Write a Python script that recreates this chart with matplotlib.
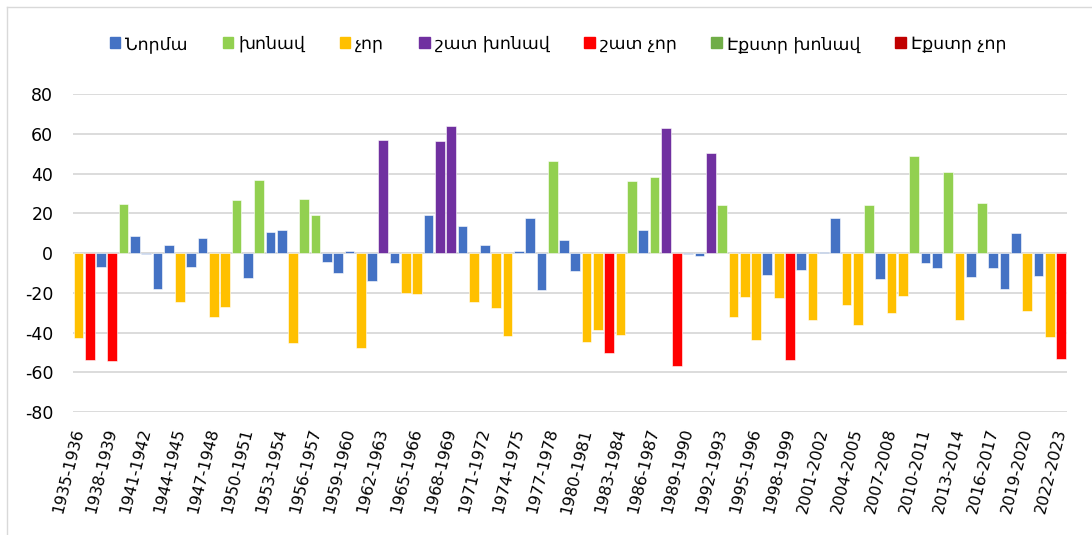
import numpy as np
import matplotlib
matplotlib.use("Agg")
import matplotlib.pyplot as plt
import matplotlib.patches as mpatches
from matplotlib.lines import Line2D

# seasons 1935-1936 ... 2022-2023
start_years = list(range(1935, 2023))
seasons = [f"{y}-{y + 1}" for y in start_years]

# anomaly values (%)
values = [
    -42.6, -53.9, -6.9, -54.5, 24.9, 8.8, -0.3, -18.2, 3.9, -24.9,
    -6.9, 7.7, -32.0, -27.0, 26.8, -12.8, 36.5, 10.4, 11.8, -45.1,
    27.3, 19.0, -4.5, -10.1, 1.0, -48.0, -14.0, 56.7, -5.2, -19.9,
    -20.7, 18.9, 56.6, 64.1, 13.6, -24.9, 4.2, -27.6, -41.6, 1.0,
    17.8, -18.5, 46.1, 6.4, -9.1, -45.0, -38.9, -50.2, -41.1, 36.4,
    11.8, 38.2, 62.8, -57.1, -0.3, -1.7, 50.2, 24.2, -32.0, -22.0,
    -43.6, -10.9, -22.4, -54.0, -8.6, -33.8, 0.7, 17.5, -26.4, -36.0,
    24.4, -13.1, -30.0, -21.4, 49.0, -5.0, -7.7, 41.0, -33.5, -12.1,
    25.4, -7.7, -18.2, 10.3, -29.0, -11.6, -42.1, -53.4,
]

# class of each season: N norm, W wet, D dry, VW very wet, VD very dry
classes = [
    "D", "VD", "N", "VD", "W", "N", "N", "N", "N", "D",
    "N", "N", "D", "D", "W", "N", "W", "N", "N", "D",
    "W", "W", "N", "N", "N", "D", "N", "VW", "N", "D",
    "D", "N", "VW", "VW", "N", "D", "N", "D", "D", "N",
    "N", "N", "W", "N", "N", "D", "D", "VD", "D", "W",
    "N", "W", "VW", "VD", "N", "N", "VW", "W", "D", "D",
    "D", "N", "D", "VD", "N", "D", "N", "N", "D", "D",
    "W", "N", "D", "D", "W", "N", "N", "W", "D", "N",
    "W", "N", "N", "N", "D", "N", "D", "VD",
]

class_keys = ["N", "W", "D", "VW", "VD", "EW", "ED"]
class_names = ["Նորմա", "խոնավ", "չոր", "շատ խոնավ", "շատ չոր", "Էքստր խոնավ", "Էքստր չոր"]
class_colors = ["#4472C4", "#92D050", "#FFC000", "#7030A0", "#FF0000", "#70AD47", "#C00000"]


def gerar_grafico():
    plt.rcParams['font.family'] = ['DejaVu Sans']
    plt.rcParams['axes.unicode_minus'] = False
    fig = plt.figure(figsize=(10.92, 5.35), dpi=100)
    ax = fig.add_axes([0.0666, 0.2299, 0.9102, 0.5944])

    x = np.arange(len(seasons))
    vals = np.array(values)
    cls = np.array(classes)

    # one bar group per class so the colours follow the legend
    for key, color in zip(class_keys, class_colors):
        mask = cls == key
        if mask.any():
            ax.bar(x[mask], vals[mask], width=0.86, color=color,
                   edgecolor="white", linewidth=0.4, zorder=3)

    ax.set_xlim(-0.5, len(seasons) - 0.5)
    ax.set_ylim(-80, 80)
    ax.set_yticks(np.arange(-80, 81, 20))
    ax.yaxis.grid(True, color="#D9D9D9", linewidth=1.3, zorder=0)
    ax.axhline(0, color="#D9D9D9", linewidth=1.3, zorder=1)
    for s in ax.spines.values():
        s.set_visible(False)
    ax.tick_params(axis="both", length=0, colors="black")
    ax.tick_params(axis="y", pad=14, labelsize=12.5)

    ax.set_xticks(x[::3])
    ax.set_xticklabels(seasons[::3], rotation=76, ha="right", va="center",
                       rotation_mode="anchor")
    ax.tick_params(axis="x", pad=12, labelsize=11.5)

    handles = [mpatches.Patch(color=c, label=n) for c, n in zip(class_colors, class_names)]
    fig.legend(handles=handles, loc="center", bbox_to_anchor=(0.511, 0.918), ncol=7,
               frameon=False, fontsize=12.5, handlelength=0.6, handleheight=0.6,
               handletextpad=0.3, columnspacing=2.0)

    # thin chart border like the Excel chart area
    fig.add_artist(Line2D([7 / 1092, 7 / 1092], [0, 1 - 7 / 535], color="#D9D9D9", lw=1))
    fig.add_artist(Line2D([7 / 1092, 1], [1 - 7 / 535, 1 - 7 / 535], color="#D9D9D9", lw=1))

    plt.savefig("out.png", dpi=100)


if __name__ == "__main__":
    gerar_grafico()
